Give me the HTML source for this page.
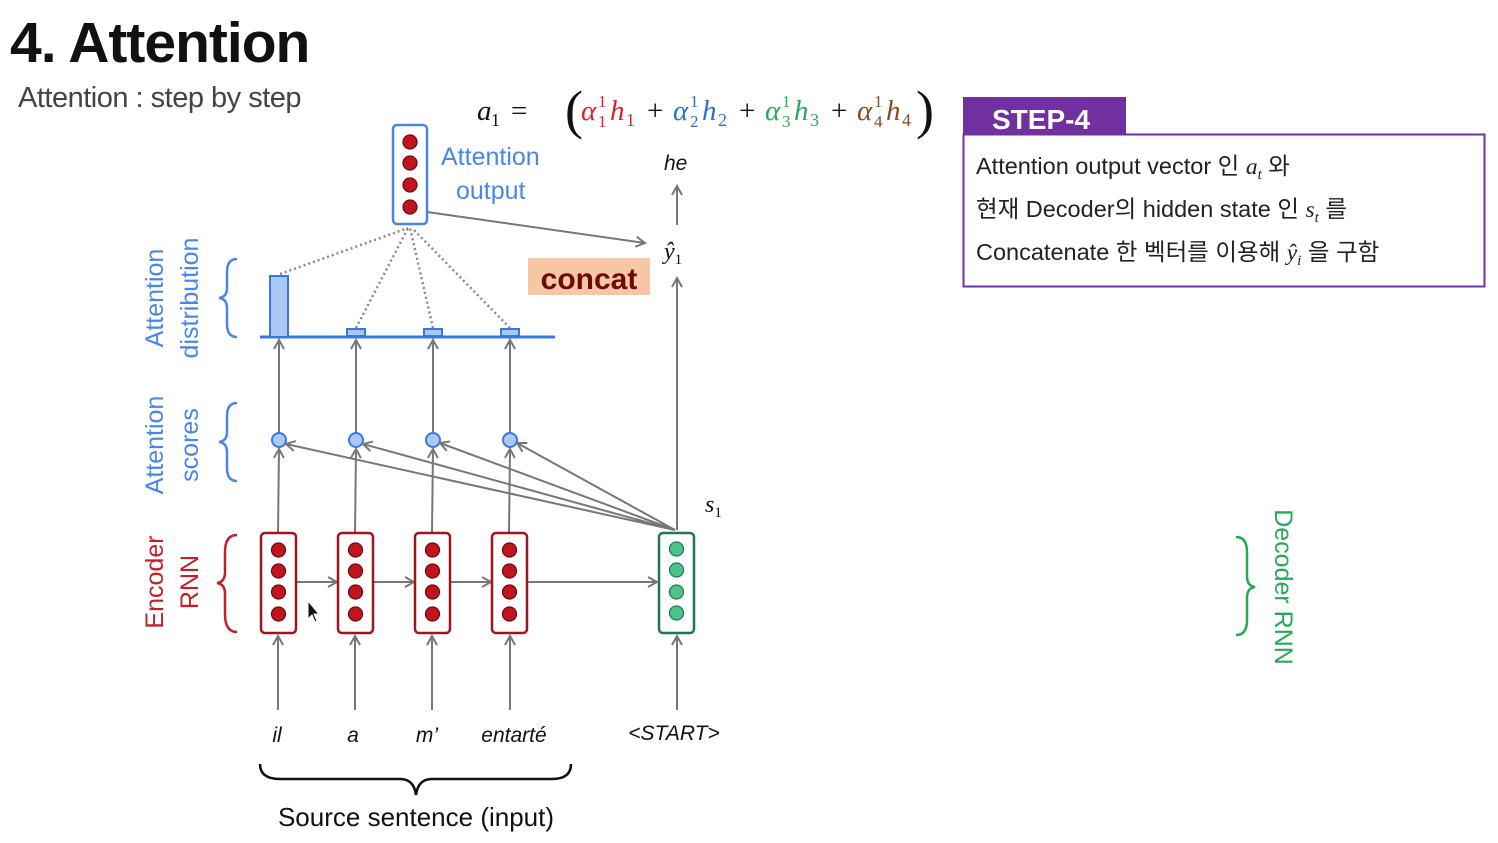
<!DOCTYPE html>
<html><head><meta charset="utf-8"><style>
html,body{margin:0;padding:0;background:#fff;}
svg{display:block;}
</style></head><body>
<svg width="1498" height="843" viewBox="0 0 1498 843" xmlns="http://www.w3.org/2000/svg">
<defs>
<marker id="ah" markerWidth="12" markerHeight="12" refX="10" refY="6" orient="auto" markerUnits="userSpaceOnUse">
<path d="M1,1 L10,6 L1,11" fill="none" stroke="#777" stroke-width="2"/>
</marker>
</defs>
<text x="10" y="62" font-family="Liberation Sans, sans-serif" font-size="57" font-weight="bold" fill="#111" letter-spacing="-1">4. Attention</text>
<text x="18" y="107" font-family="Liberation Sans, sans-serif" font-size="29" fill="#444" letter-spacing="-0.5">Attention : step by step</text>

<!-- formula -->
<g font-family="Liberation Serif, serif" font-size="29" font-style="italic">
<text x="477" y="120" fill="#111">a</text><text x="491" y="126" font-size="18" font-style="normal" fill="#111">1</text>
<text x="511" y="120" font-style="normal" fill="#111">=</text>
<text x="565" y="128" font-size="54" font-style="normal" fill="#111">(</text>
<g fill="#e0202a"><text x="581" y="120">α</text><text x="598" y="107" font-size="17" font-style="normal">1</text><text x="598" y="127" font-size="17" font-style="normal">1</text><text x="610" y="120">h</text><text x="626" y="126" font-size="18" font-style="normal">1</text></g>
<text x="647" y="120" fill="#111" font-style="normal">+</text>
<g fill="#2a72c8"><text x="673" y="120">α</text><text x="690" y="107" font-size="17" font-style="normal">1</text><text x="690" y="127" font-size="17" font-style="normal">2</text><text x="702" y="120">h</text><text x="718" y="126" font-size="18" font-style="normal">2</text></g>
<text x="739" y="120" fill="#111" font-style="normal">+</text>
<g fill="#2aa85a"><text x="765" y="120">α</text><text x="782" y="107" font-size="17" font-style="normal">1</text><text x="782" y="127" font-size="17" font-style="normal">3</text><text x="794" y="120">h</text><text x="810" y="126" font-size="18" font-style="normal">3</text></g>
<text x="831" y="120" fill="#111" font-style="normal">+</text>
<g fill="#8a4a1e"><text x="857" y="120">α</text><text x="874" y="107" font-size="17" font-style="normal">1</text><text x="874" y="127" font-size="17" font-style="normal">4</text><text x="886" y="120">h</text><text x="902" y="126" font-size="18" font-style="normal">4</text></g>
<text x="916" y="128" font-size="54" font-style="normal" fill="#111">)</text>
</g>

<!-- step box -->
<rect x="963" y="97" width="163" height="37" fill="#7030a0"/>
<text x="992" y="129" font-family="Liberation Sans, sans-serif" font-size="28" font-weight="bold" fill="#fff">STEP-4</text>
<rect x="963.5" y="134.5" width="521" height="152" fill="none" stroke="#7030a0" stroke-width="2"/>
<g font-family="Liberation Sans, 'Noto Sans CJK KR', sans-serif" font-size="23.5" fill="#222">
<text x="976" y="174">Attention output vector 인 <tspan font-family="Liberation Serif, serif" font-style="italic">a<tspan font-size="15" dy="5">t</tspan></tspan><tspan dy="-5"> 와</tspan></text>
<text x="976" y="217">현재 Decoder의 hidden state 인 <tspan font-family="Liberation Serif, serif" font-style="italic">s<tspan font-size="15" dy="5">t</tspan></tspan><tspan dy="-5"> 를</tspan></text>
<text x="976" y="260">Concatenate 한 벡터를 이용해 <tspan font-family="Liberation Serif, serif" font-style="italic">ŷ<tspan font-size="15" dy="5">i</tspan></tspan><tspan dy="-5"> 을 구함</tspan></text>
</g>

<!-- attention output -->
<rect x="393" y="125" width="34" height="99" rx="4" fill="#fff" stroke="#4a86e8" stroke-width="2.5"/>
<g fill="#c0141e" stroke="#6a0a10" stroke-width="1.2">
<circle cx="410" cy="142" r="7"/><circle cx="410" cy="163" r="7"/><circle cx="410" cy="185" r="7"/><circle cx="410" cy="207" r="7"/>
</g>
<g font-family="Liberation Sans, sans-serif" font-size="25" fill="#4a86e8">
<text x="441" y="165">Attention</text><text x="456" y="199">output</text>
</g>
<g stroke="#888" stroke-width="2.5" stroke-dasharray="2,3" fill="none">
<line x1="280" y1="274" x2="408" y2="228"/>
<line x1="356" y1="328" x2="408" y2="228"/>
<line x1="433" y1="328" x2="410" y2="228"/>
<line x1="510" y1="328" x2="412" y2="228"/>
</g>
<g stroke="#777" stroke-width="2" fill="none" marker-end="url(#ah)">
<line x1="427" y1="212" x2="645" y2="243"/>
<line x1="677" y1="225" x2="677" y2="186"/>
<line x1="677" y1="530" x2="677" y2="278"/>
</g>
<text x="664" y="170" font-family="Liberation Sans, sans-serif" font-style="italic" font-size="21" fill="#111">he</text>
<text x="664" y="259" font-family="Liberation Serif, serif" font-style="italic" font-size="24" fill="#111">ŷ<tspan font-size="15" dy="5" font-style="normal">1</tspan></text>
<rect x="528" y="258" width="122" height="37" fill="#f7c6a3"/>
<text x="589" y="289" text-anchor="middle" font-family="Liberation Sans, sans-serif" font-size="30" font-weight="bold" fill="#6e0a0a">concat</text>

<!-- distribution -->
<line x1="260" y1="337" x2="555" y2="337" stroke="#3a78e0" stroke-width="3"/>
<rect x="270" y="276" width="18" height="61" fill="#a9c8f5" stroke="#3a78e0" stroke-width="2"/>
<g fill="#a9c8f5" stroke="#3a78e0" stroke-width="2">
<rect x="347" y="329" width="18" height="7"/><rect x="424" y="329" width="18" height="7"/><rect x="501" y="329" width="18" height="7"/>
</g>

<g stroke="#777" stroke-width="2" fill="none" marker-end="url(#ah)">
<line x1="279" y1="432" x2="279" y2="340"/><line x1="356" y1="432" x2="356" y2="340"/><line x1="433" y1="432" x2="433" y2="340"/><line x1="510" y1="432" x2="510" y2="340"/>
<line x1="278" y1="532" x2="279" y2="449"/><line x1="355" y1="532" x2="356" y2="449"/><line x1="432" y1="532" x2="433" y2="449"/><line x1="509" y1="532" x2="510" y2="449"/>
<line x1="675" y1="530" x2="286" y2="444"/><line x1="675" y1="530" x2="363" y2="444"/><line x1="675" y1="530" x2="440" y2="443"/><line x1="675" y1="530" x2="517" y2="443"/>
<line x1="296" y1="582" x2="337" y2="582"/><line x1="373" y1="582" x2="414" y2="582"/><line x1="450" y1="582" x2="491" y2="582"/><line x1="527" y1="582" x2="657" y2="582"/>
<line x1="278" y1="710" x2="278" y2="636"/><line x1="355" y1="710" x2="355" y2="636"/><line x1="432" y1="710" x2="432" y2="636"/><line x1="510" y1="710" x2="510" y2="636"/><line x1="677" y1="710" x2="677" y2="636"/>
</g>
<g fill="#a9c8f5" stroke="#3a78e0" stroke-width="2">
<circle cx="279" cy="440" r="7"/><circle cx="356" cy="440" r="7"/><circle cx="433" cy="440" r="7"/><circle cx="510" cy="440" r="7"/>
</g>

<!-- encoder -->
<g fill="#fff" stroke="#a0141e" stroke-width="2.5">
<rect x="261" y="533" width="35" height="100" rx="4"/><rect x="338" y="533" width="35" height="100" rx="4"/><rect x="415" y="533" width="35" height="100" rx="4"/><rect x="492" y="533" width="35" height="100" rx="4"/>
</g>
<g fill="#c0141e" stroke="#6a0a10" stroke-width="1.2">
<circle cx="278.5" cy="550" r="7"/><circle cx="278.5" cy="571" r="7"/><circle cx="278.5" cy="592" r="7"/><circle cx="278.5" cy="614" r="7"/>
<circle cx="355.5" cy="550" r="7"/><circle cx="355.5" cy="571" r="7"/><circle cx="355.5" cy="592" r="7"/><circle cx="355.5" cy="614" r="7"/>
<circle cx="432.5" cy="550" r="7"/><circle cx="432.5" cy="571" r="7"/><circle cx="432.5" cy="592" r="7"/><circle cx="432.5" cy="614" r="7"/>
<circle cx="509.5" cy="550" r="7"/><circle cx="509.5" cy="571" r="7"/><circle cx="509.5" cy="592" r="7"/><circle cx="509.5" cy="614" r="7"/>
</g>
<rect x="659" y="533" width="35" height="100" rx="4" fill="#fff" stroke="#1e7a4e" stroke-width="2.5"/>
<g fill="#4cc488" stroke="#1e7a4e" stroke-width="1.2">
<circle cx="676.5" cy="549" r="7"/><circle cx="676.5" cy="570" r="7"/><circle cx="676.5" cy="592" r="7"/><circle cx="676.5" cy="613" r="7"/>
</g>
<text x="705" y="512" font-family="Liberation Serif, serif" font-style="italic" font-size="24" fill="#111">s<tspan font-size="15" dy="5" font-style="normal">1</tspan></text>
<path d="M308,601 L308,619 L312,615 L315,622 L317,621 L314,614 L319,614 Z" fill="#111" stroke="#fff" stroke-width="1"/>

<!-- words -->
<g font-family="Liberation Sans, sans-serif" font-style="italic" font-size="21" fill="#111" text-anchor="middle">
<text x="277" y="742">il</text><text x="353" y="742">a</text><text x="427" y="742">m’</text><text x="514" y="742">entarté</text><text x="674" y="740">&lt;START&gt;</text>
</g>
<path d="M260,764 Q260,779 280,779 L400,779 Q414,779 416,795 Q418,779 432,779 L552,779 Q571,779 571,764" fill="none" stroke="#111" stroke-width="2.5"/>
<text x="416" y="826" text-anchor="middle" font-family="Liberation Sans, sans-serif" font-size="26" fill="#111">Source sentence (input)</text>

<!-- left labels -->
<g font-family="Liberation Sans, sans-serif" font-size="25" text-anchor="middle">
<text transform="translate(163,582) rotate(-90)" fill="#c0202a">Encoder</text>
<text transform="translate(198,582) rotate(-90)" fill="#c0202a">RNN</text>
<text transform="translate(163,445) rotate(-90)" fill="#4a86e8">Attention</text>
<text transform="translate(198,445) rotate(-90)" fill="#4a86e8">scores</text>
<text transform="translate(163,298) rotate(-90)" fill="#4a86e8">Attention</text>
<text transform="translate(198,298) rotate(-90)" fill="#4a86e8">distribution</text>
<text transform="translate(1275,587) rotate(90)" fill="#2aa85a">Decoder RNN</text>
</g>
<g fill="none" stroke-width="2.5">
<path d="M237,535 Q225,535 225,552 L225,572 Q225,582 217,583 Q225,584 225,594 L225,614 Q225,632 237,632" stroke="#c0202a"/>
<path d="M237,403 Q227,403 227,416 L227,432 Q227,441 219,442 Q227,443 227,452 L227,468 Q227,481 237,481" stroke="#4a86e8"/>
<path d="M237,259 Q227,259 227,272 L227,288 Q227,297 219,298 Q227,299 227,308 L227,324 Q227,337 237,337" stroke="#4a86e8"/>
<path d="M1236,537 Q1247,537 1247,552 L1247,576 Q1247,586 1255,587 Q1247,588 1247,598 L1247,620 Q1247,635 1236,635" stroke="#2aa85a"/>
</g>
</svg>
</body></html>
